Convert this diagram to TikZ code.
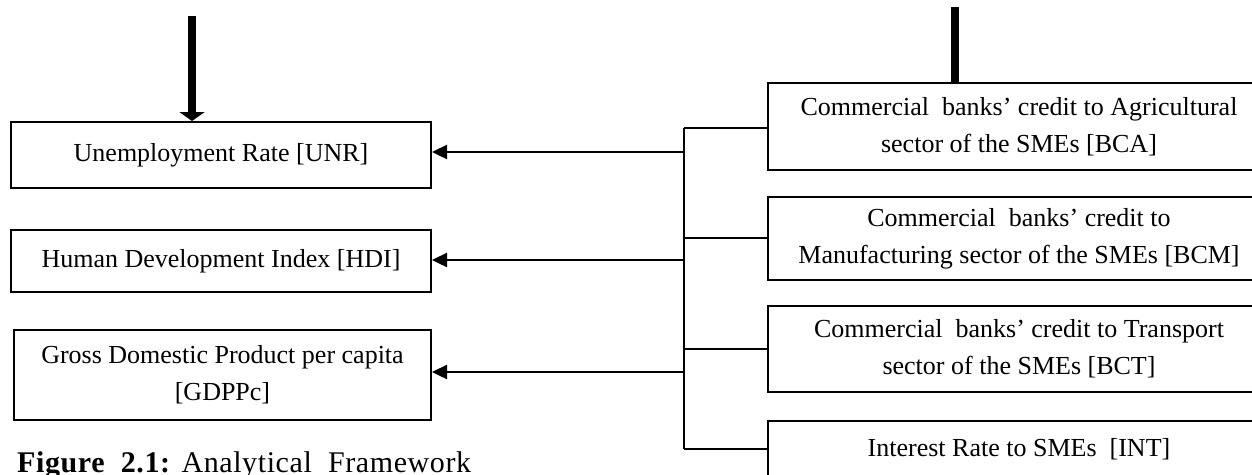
\documentclass[tikz,border=0pt]{standalone}
\usepackage{fontspec}
\setmainfont{Liberation Serif}
\newfontfamily\capfont[LetterSpace=2]{Liberation Serif}
\usetikzlibrary{arrows.meta}
\tikzset{
  box/.style={draw, line width=2pt, align=center, inner sep=0pt, font=\fontsize{26}{37}\selectfont},
  link/.style={line width=2.4pt},
  arr/.style={line width=2.4pt, -{Triangle[width=14pt,length=15pt]}},
  thick arr/.style={line width=8.5pt, -{Triangle[width=25pt,length=9pt]}},
}
\begin{document}
\begin{tikzpicture}[x=1pt,y=-1pt]
\useasboundingbox (0,0) rectangle (1252,474);
\clip (0,0) rectangle (1252,474);
% left boxes
\node[box, minimum width=420pt, minimum height=66pt] (unr) at (221,155) {Unemployment Rate [UNR]};
\node[box, minimum width=420pt, minimum height=62pt] (hdi) at (221,261) {Human Development Index [HDI]};
\node[box, minimum width=417pt, minimum height=90pt] (gdp) at (222.5,375) {Gross Domestic Product per capita\\{}[GDPPc]};
% right boxes
\node[box, minimum width=502pt, minimum height=87pt] (bca) at (1019,126.5) {Commercial\ \ banks’ credit to Agricultural\\sector of the SMEs [BCA]};
\node[box, minimum width=502pt, minimum height=83pt] (bcm) at (1019,238.5) {Commercial\ \ banks’ credit to\\Manufacturing sector of the SMEs [BCM]};
\node[box, minimum width=502pt, minimum height=86pt] (bct) at (1019,349) {Commercial\ \ banks’ credit to Transport\\sector of the SMEs [BCT]};
\node[box, minimum width=502pt, minimum height=56pt] (int) at (1019,449) {Interest Rate to SMEs\ \ [INT]};
% bus
\coordinate (b1) at (684,128);
\coordinate (b2) at (684,238);
\coordinate (b3) at (684,349);
\coordinate (b4) at (684,449);
\draw[link] (b1) -- (b4);
\draw[link] (b1) -- (b1 -| bca.west);
\draw[link] (b2) -- (b2 -| bcm.west);
\draw[link] (b3) -- (b3 -| bct.west);
\draw[link] (b4) -- (b4 -| int.west);
% arrows to left boxes
\coordinate (a1) at (684,152);
\coordinate (a2) at (684,260);
\coordinate (a3) at (684,372);
\draw[arr] (a1) -- (a1 -| unr.east);
\draw[arr] (a2) -- (a2 -| hdi.east);
\draw[arr] (a3) -- (a3 -| gdp.east);
% thick vertical connectors
\coordinate (tl) at (192,16);
\draw[thick arr] (tl) -- (tl |- unr.north);
\coordinate (tr) at (955,7);
\draw[line width=8pt] (tr) -- (tr |- bca.north);
% caption
\node[anchor=base west, inner sep=0pt, font=\fontsize{30}{34}\capfont] (cap) at (17,472) {\textbf{Figure\ \ 2.1:} Analytical\ \ Framework};
\end{tikzpicture}
\end{document}
